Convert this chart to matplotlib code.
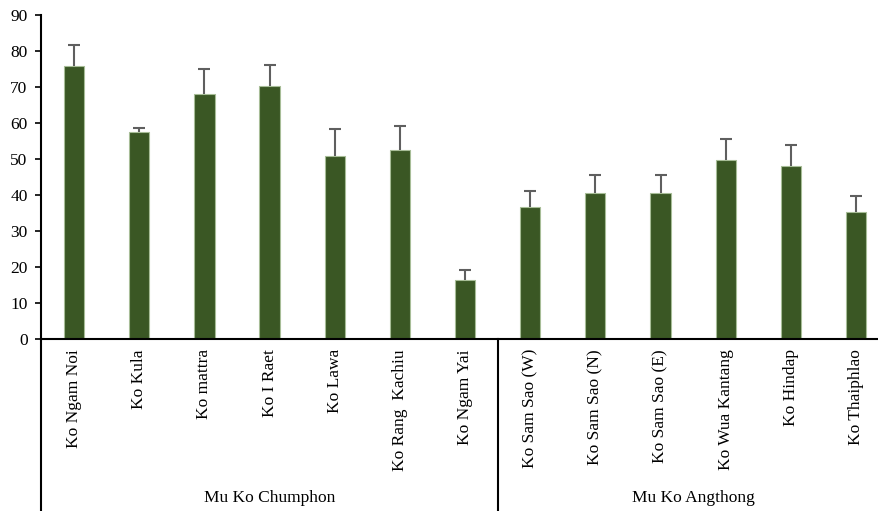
import matplotlib
matplotlib.use("Agg")
import matplotlib.pyplot as plt
from matplotlib.lines import Line2D

plt.rcParams["font.family"] = ["Liberation Serif", "DejaVu Serif"]

# island sites and their values (mean with upper error)
sites = [
    "Ko Ngam Noi", "Ko Kula", "Ko mattra", "Ko I Raet", "Ko Lawa",
    "Ko Rang  Kachiu", "Ko Ngam Yai",
    "Ko Sam Sao (W)", "Ko Sam Sao (N)", "Ko Sam Sao (E)", "Ko Wua Kantang",
    "Ko Hindap", "Ko Thaiphlao",
]
means = [75.7, 57.5, 68.1, 70.2, 50.7, 52.4, 16.3,
         36.8, 40.5, 40.5, 49.6, 48.0, 35.3]
errors = [6.1, 1.0, 6.8, 5.8, 7.6, 6.8, 2.9,
          4.3, 5.1, 5.1, 6.0, 5.8, 4.3]
groups = ["Mu Ko Chumphon", "Mu Ko Angthong"]
group_sizes = [7, 6]

FS = 12.5
W, H = 879, 511
fig = plt.figure(figsize=(W / 100, H / 100), dpi=100)
left, right, bottom, top = 41.5, 888.6, 339, 15
ax = fig.add_axes([left / W, 1 - bottom / H, (right - left) / W, (bottom - top) / H])

x = list(range(len(sites)))
ax.bar(x, means, width=0.31, color="#3A5724", edgecolor="#A7BD97", linewidth=0.8, zorder=2)
eb = ax.errorbar(x, means, yerr=[[0] * len(errors), errors], fmt="none",
                 ecolor="#5F5F5F", elinewidth=1.5, capsize=4, capthick=1.5, zorder=3)
# only the upper cap is shown
eb.lines[1][0].set_visible(False)

ax.set_xlim(-0.5, len(sites) - 0.5)
ax.set_ylim(0, 90)
ax.set_yticks(range(0, 91, 10))
ax.tick_params(axis="y", length=4, width=1.2, pad=6, labelsize=FS, direction="out")
ax.set_xticks([])

for side in ("top", "right"):
    ax.spines[side].set_visible(False)
ax.spines["left"].set_linewidth(1.5)
ax.spines["bottom"].set_linewidth(1.5)

# rotated site names hanging under the axis
px = 1.0 / (bottom - top)
trans = ax.get_xaxis_transform()
for xi, name in zip(x, sites):
    ax.text(xi, -10 * px, name, transform=trans,
            rotation=90, ha="center", va="top", fontsize=FS)

# group divisions and group names
depth = -(H - bottom) * px
start = -0.5
for name, n in zip(groups, group_sizes):
    end = start + n
    ax.add_line(Line2D([start, start], [0, depth], transform=trans,
                       color="black", linewidth=1.5, clip_on=False))
    ax.text((start + end) / 2, -159 * px, name, transform=trans,
            ha="center", va="center", fontsize=FS)
    start = end

fig.savefig("out.png", dpi=100)
